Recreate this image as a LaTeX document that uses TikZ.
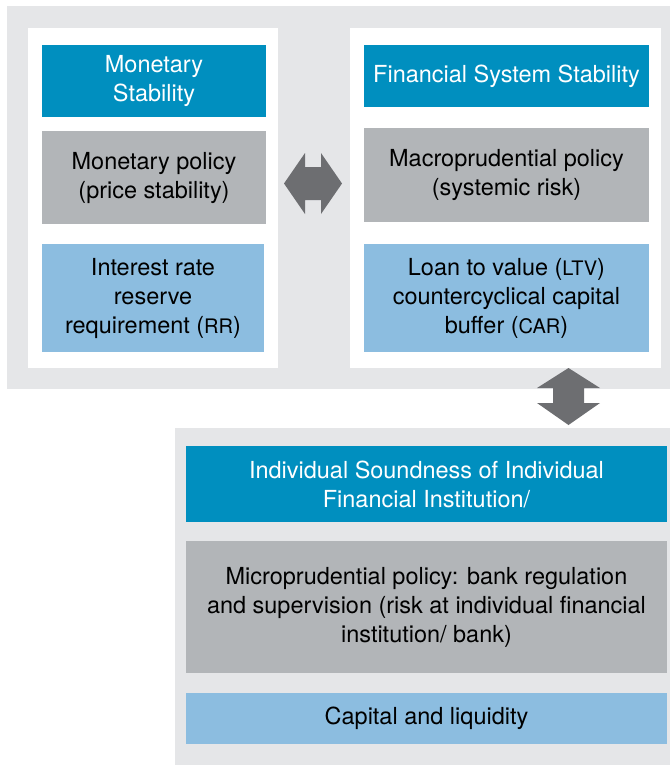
\documentclass[tikz,border=0pt]{standalone}
\usepackage{fontspec}
\setmainfont{TeX Gyre Heros}
\usepackage{xcolor}

\definecolor{panelgray}{HTML}{E5E6E8}
\definecolor{headblue}{HTML}{008FBF}
\definecolor{policygray}{HTML}{B2B5B8}
\definecolor{toolblue}{HTML}{8CBDE0}
\definecolor{arrowgray}{HTML}{6D6E71}
\newcommand{\abbrev}[1]{{\fontsize{15}{21.75}\selectfont #1}}

\begin{document}
\begin{tikzpicture}[
  x=0.75pt, y=-0.75pt,
  panel/.style={fill=panelgray},
  card/.style={fill=white},
  box/.style={rectangle,inner sep=0pt,align=center,font=\fontsize{17.6}{21.75}\selectfont},
  head/.style={box,fill=headblue,text=white},
  policy/.style={box,fill=policygray},
  tool/.style={box,fill=toolblue},
  blockarrow/.style={fill=arrowgray}
]
  \useasboundingbox (0,0) rectangle (670,765);
  \fill[panel] (7,6) rectangle (670,389);
  \fill[card] (28,28) rectangle (278,368);
  \fill[card] (350,28) rectangle (661,368);
  \fill[panel] (175,428) rectangle (670,765);

  \node[head,minimum width=168pt,minimum height=54pt] (ms) at (154,81) {Monetary\\Stability};
  \node[policy,minimum width=168pt,minimum height=69.75pt] (mp) at (154,177.5) {Monetary policy\\(price stability)};
  \node[tool,minimum width=166.5pt,minimum height=81pt] (ir) at (153,298) {Interest rate\\reserve\\requirement (\abbrev{RR})};

  \node[head,minimum width=213.75pt,minimum height=46.5pt] (fs) at (506.5,76) {Financial System Stability};
  \node[policy,minimum width=213.75pt,minimum height=70.5pt] (mpp) at (506.5,175) {Macroprudential policy\\(systemic risk)};
  \node[tool,minimum width=213.75pt,minimum height=81pt] (ltv) at (506.5,298) {Loan to value (\abbrev{LTV})\\countercyclical capital\\buffer (\abbrev{CAR})};

  \node[head,minimum width=360.75pt,minimum height=57pt] (is) at (426.5,484) {Individual Soundness of Individual\\Financial Institution/};
  \node[policy,minimum width=360.75pt,minimum height=99pt] (mic) at (426.5,607) {Microprudential policy: bank regulation\\and supervision (risk at individual financial\\institution/ bank)};
  \node[tool,minimum width=360.75pt,minimum height=38.25pt] (cl) at (426.5,718.5) {Capital and liquidity};

  \coordinate (harrow) at (313,183.5);
  \coordinate (varrow) at (568.5,396.5);
  \fill[blockarrow,shift={(harrow)}] (-29,0) -- (-8,-30.5) -- (-8,-16.5) -- (8,-16.5) -- (8,-30.5)
    -- (29,0) -- (8,30.5) -- (8,16.5) -- (-8,16.5) -- (-8,30.5) -- cycle;
  \fill[blockarrow,shift={(varrow)}] (0,-28.5) -- (31.5,-8.5) -- (15.5,-8.5) -- (15.5,6.5) -- (31.5,6.5)
    -- (0,28.5) -- (-31.5,6.5) -- (-15.5,6.5) -- (-15.5,-8.5) -- (-31.5,-8.5) -- cycle;
\end{tikzpicture}
\end{document}
